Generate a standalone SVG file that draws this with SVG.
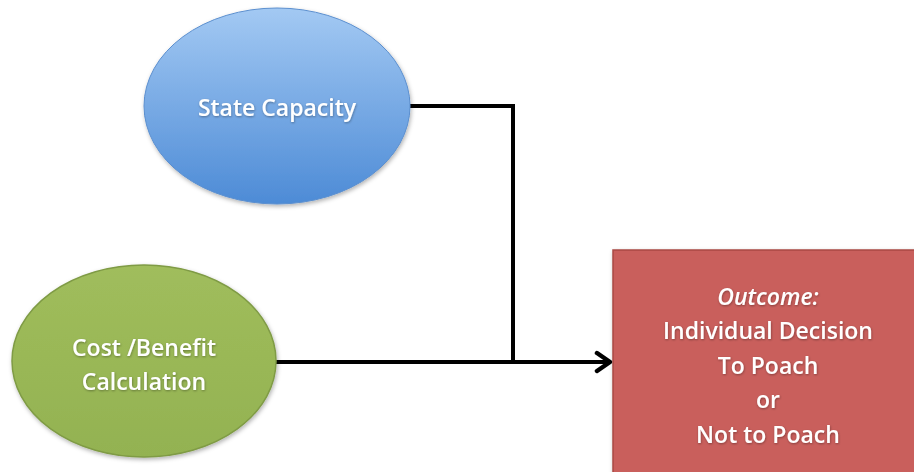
<svg xmlns="http://www.w3.org/2000/svg" width="914" height="472" viewBox="0 0 914 472">
<defs>
<linearGradient id="gBlue" x1="0" y1="0" x2="0" y2="1">
<stop offset="0" stop-color="#a3c9f3"/>
<stop offset="1" stop-color="#4d8bd6"/>
</linearGradient>
<linearGradient id="gGreen" x1="0" y1="0" x2="0" y2="1">
<stop offset="0" stop-color="#a0bd5c"/>
<stop offset="1" stop-color="#93b251"/>
</linearGradient>
<filter id="sh" x="-10%" y="-10%" width="130%" height="130%">
<feDropShadow dx="1" dy="2" stdDeviation="2" flood-color="#000" flood-opacity="0.3"/>
</filter>
<filter id="tsh" x="-5%" y="-20%" width="110%" height="150%">
<feDropShadow dx="0.5" dy="1" stdDeviation="0.8" flood-color="#000" flood-opacity="0.35"/>
</filter>
<marker id="arr" viewBox="0 0 20 24" refX="17" refY="12" markerWidth="20" markerHeight="24" markerUnits="userSpaceOnUse" orient="auto">
<path d="M4,3 L17,12 L4,21" fill="none" stroke="#000" stroke-width="4.5" stroke-linecap="round" stroke-linejoin="round"/>
</marker>
</defs>
<style>
.lbl{font-family:"Open Sans","Liberation Sans",Arial,sans-serif;font-weight:600;font-size:23px;fill:#fff;text-anchor:middle;filter:url(#tsh);}
.conn{fill:none;stroke:#000;stroke-width:4;}
</style>
<rect width="914" height="472" fill="#fff"/>
<g id="connectors">
<path class="conn" d="M410,106 H513 V362"/>
<path class="conn" d="M276,362 H610" marker-end="url(#arr)"/>
</g>
<g id="state-capacity">
<ellipse cx="277" cy="106" rx="133" ry="98" fill="url(#gBlue)" stroke="#5b8fcf" stroke-width="1" filter="url(#sh)"/>
<text class="lbl" x="277" y="116">State Capacity</text>
</g>
<g id="cost-benefit">
<ellipse cx="144" cy="361" rx="132" ry="96" fill="url(#gGreen)" stroke="#7f9b45" stroke-width="1.5" filter="url(#sh)"/>
<text class="lbl" x="144" y="356">Cost /Benefit</text>
<text class="lbl" x="144" y="390">Calculation</text>
</g>
<g id="outcome">
<rect x="613" y="250" width="310" height="240" fill="#c95f5b" stroke="#a94a46" stroke-width="1.5" filter="url(#sh)"/>
<text class="lbl" x="768" y="305" font-style="italic" font-weight="400">Outcome:</text>
<text class="lbl" x="768" y="339">Individual Decision</text>
<text class="lbl" x="768" y="374">To Poach</text>
<text class="lbl" x="768" y="408">or</text>
<text class="lbl" x="768" y="443">Not to Poach</text>
</g>
</svg>
